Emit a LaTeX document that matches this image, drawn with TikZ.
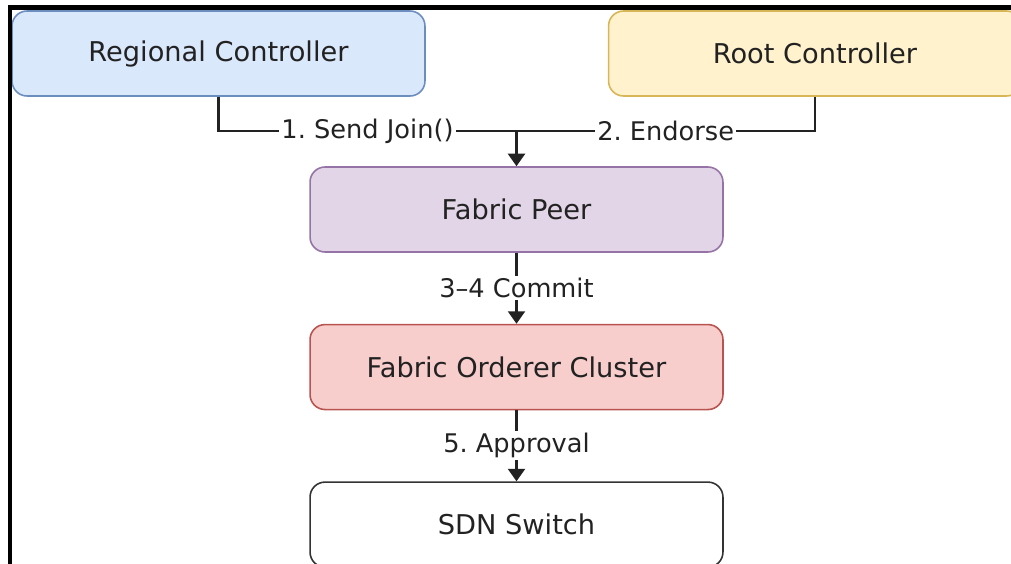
\documentclass[tikz,border=0pt]{standalone}
\usepackage{fontspec}
\setmainfont{DejaVu Sans}
\usepackage{xcolor}
\usepackage{tikz}
\usetikzlibrary{positioning,arrows.meta}

\definecolor{regfill}{HTML}{DAE8FC}
\definecolor{regline}{HTML}{6C8EBF}
\definecolor{rootfill}{HTML}{FFF2CC}
\definecolor{rootline}{HTML}{D6B656}
\definecolor{peerfill}{HTML}{E1D5E7}
\definecolor{peerline}{HTML}{9673A6}
\definecolor{ordfill}{HTML}{F8CECC}
\definecolor{ordline}{HTML}{B85450}
\definecolor{ink}{HTML}{222222}

\begin{document}
\frenchspacing
\begin{tikzpicture}[
    x=0.02cm, y=-0.02cm,
    node distance=1.42cm,
    box/.style={draw, rounded corners=0.3cm, line width=0.9pt, minimum width=8.26cm, minimum height=1.7cm,
                font=\fontsize{15.5}{18}\selectfont, text=ink, align=center},
    wire/.style={draw=ink, line width=1.3pt},
    arrow/.style={wire, -{Triangle[length=0.25cm, width=0.34cm]}},
    lbl/.style={fill=white, inner sep=1.2pt, font=\fontsize{14.6}{16}\selectfont, text=ink}
]
\useasboundingbox (0,0) rectangle (1011,564);
\clip (0,0) rectangle (1011,564);

% controllers on top, chain of fabric parts below
\node[box, fill=regfill, draw=regline]   (rc)   at (218.5,53.5) {Regional Controller};
\node[box, fill=rootfill, draw=rootline] (root) at (815,53.5)   {Root Controller};
\node[box, fill=peerfill, draw=peerline] (peer) at (516.5,209.5) {Fabric Peer};
\node[box, fill=ordfill, draw=ordline, below=of peer] (ord) {Fabric Orderer Cluster};
\node[box, draw=black!80, below=of ord] (sw) {SDN Switch};

\coordinate (join) at (516.5,131);

\draw[wire] (rc.south) |- node[lbl, pos=0.75] {1. Send Join()} (join);
\draw[wire] (root.south) |- node[lbl, pos=0.75] {2. Endorse} (join);
\draw[arrow] (join) -- (peer.north);
\draw[arrow] (peer) -- node[lbl] {3--4 Commit} (ord);
\draw[arrow] (ord) -- node[lbl] {5. Approval} (sw);

% frame edge
\draw[line width=0.09cm, black] (10,580) -- (10,7.5) -- (1030,7.5);
\end{tikzpicture}
\end{document}
